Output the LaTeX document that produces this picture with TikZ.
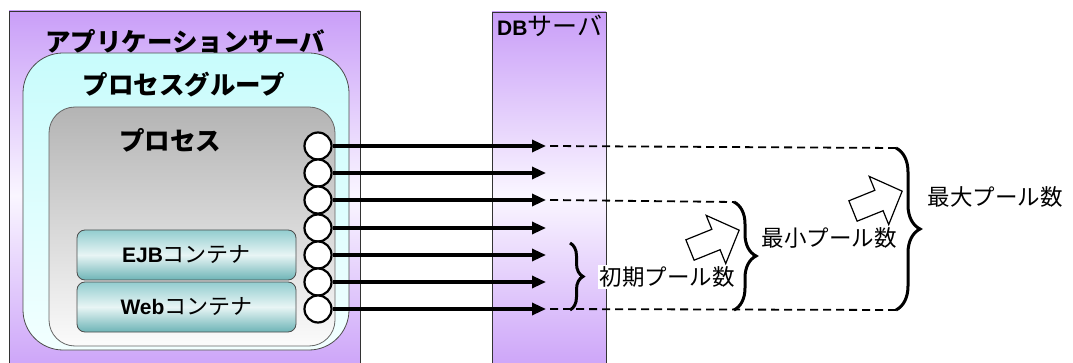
\documentclass[tikz,border=0pt]{standalone}
\usepackage{fontspec}
\setmainfont{Liberation Sans}
\newfontfamily\jp{Noto Sans CJK JP}
\usetikzlibrary{arrows.meta,decorations.pathreplacing,shadings}
\definecolor{srvpurple}{HTML}{C99EF8}
\definecolor{srvlight}{HTML}{FAF6FF}
\definecolor{grpcyan}{HTML}{C8FCFC}
\definecolor{grplight}{HTML}{F2FFFF}
\definecolor{procgray}{HTML}{B4B4B4}
\definecolor{proclight}{HTML}{FBFBFB}
\definecolor{tealtop}{HTML}{93CDCF}
\definecolor{tealmid}{HTML}{E8F5F5}
\definecolor{tealbot}{HTML}{6DB4B6}
\tikzset{
  server/.style={draw=black!80, line width=0.8pt, top color=srvpurple, bottom color=srvpurple, middle color=srvlight},
  grpbox/.style={draw=black!70, line width=0.8pt, rounded corners=40pt, top color=grpcyan, bottom color=grplight},
  procbox/.style={draw=black!60, line width=0.8pt, rounded corners=26pt, top color=procgray, bottom color=proclight},
  contbox/.style={draw=black!70, line width=0.8pt, rounded corners=8pt, top color=tealtop, bottom color=tealbot, middle color=tealmid, minimum width=219pt, minimum height=50pt, inner sep=0pt},
  port/.style={circle, draw=black, line width=2.2pt, fill=white, minimum size=27pt, inner sep=0pt},
  conn/.style={line width=3.2pt, -{Triangle[length=14pt,width=12pt]}},
  pool/.style={line width=1.8pt, dash pattern=on 8pt off 5pt},
  bracestyle/.style={line width=3pt, decorate, decoration={brace, amplitude=#1}},
  fatarrow/.style={draw=black, line width=1.2pt, fill=white, line join=miter},
  title/.style={font=\jp\bfseries\fontsize{25.5}{25.5}\selectfont, inner sep=0pt},
  lbl/.style={font=\jp\fontsize{22.5}{22.5}\selectfont, inner sep=2pt}
}
\begin{document}
\begin{tikzpicture}[x=1pt,y=-1pt]
\useasboundingbox (0,0) rectangle (1073,363);
\clip (0,0) rectangle (1073,363);
% application server
\path[server] (9,11) rectangle (360,380);
\node[title] (apptitle) at (185,42) {アプリケーションサーバ};
% process group
\path[grpbox] (23,53) rectangle (349,350);
\node[title] (grptitle) at (184,85) {プロセスグループ};
% process
\path[procbox] (49,107) rectangle (335,346);
\node[title] (proctitle) at (170,140) {プロセス};
% containers
\node[contbox] (ejb) at (186.5,255) {\fontsize{21}{21}\selectfont\textbf{EJB}{\jp\fontsize{22}{22}\selectfont コンテナ}};
\node[contbox] (web) at (186.5,307) {\fontsize{21}{21}\selectfont\textbf{Web}{\jp\fontsize{22}{22}\selectfont コンテナ}};
% DB server
\path[server] (492,12) rectangle (606,380);
\node[anchor=west, inner sep=0pt] (dbtitle) at (497,26) {\fontsize{21}{21}\selectfont\textbf{DB}{\jp\fontsize{25}{25}\selectfont サーバ}};
% ports and connections
\foreach \i/\y in {1/146,2/173,3/200,4/228,5/255,6/282,7/309} {
  \node[port] (c\i) at (318,\y) {};
  \coordinate (e\i) at (546,\y);
  \draw[conn] (c\i.east) -- (e\i);
}
% brace corners
\coordinate (maxtop) at (896,148);
\coordinate (maxbot) at (896,310);
\coordinate (mintop) at (734,202);
\coordinate (minbot) at (734,310);
\coordinate (initop) at (570,243);
\coordinate (inibot) at (570,310);
% dashed pool lines
\draw[pool] (e1) ++(4,0) -- (maxtop);
\draw[pool] (e3) ++(4,0) -- (mintop);
\draw[pool] (e7) ++(4,0) -- (maxbot);
% braces
\draw[bracestyle=13pt] (initop) -- (inibot);
\draw[bracestyle=22pt] (mintop) -- (minbot);
\draw[bracestyle=24pt] (maxtop) -- (maxbot);
% labels
\node[lbl, fill=white] (ini) at (667,277) {初期プール数};
\node[lbl] (min) at (829,238) {最小プール数};
\node[lbl] (max) at (995,197) {最大プール数};
% fat arrows
\draw[fatarrow, shift={(690,250)}, rotate=22] (0,-11) -- (28,-11) -- (28,-26) -- (53,0) -- (28,26) -- (28,11) -- (0,11) -- cycle;
\draw[fatarrow, shift={(853,211)}, rotate=22] (0,-11) -- (28,-11) -- (28,-26) -- (53,0) -- (28,26) -- (28,11) -- (0,11) -- cycle;
\end{tikzpicture}
\end{document}
